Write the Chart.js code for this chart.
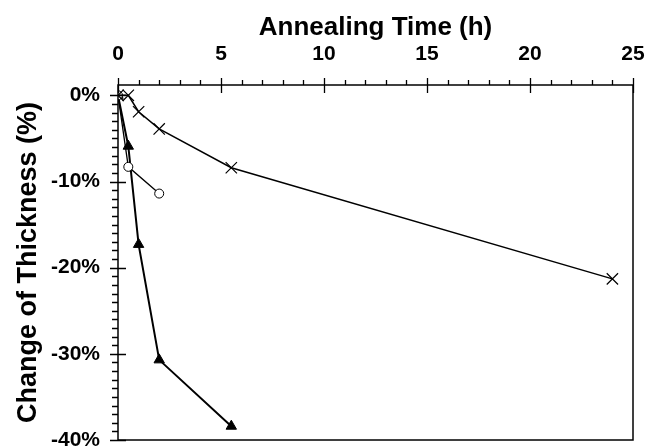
<!DOCTYPE html>
<html>
<head>
<meta charset="utf-8">
<script src="https://cdn.jsdelivr.net/npm/chart.js@4/dist/chart.umd.min.js"></script>
<style>
  html, body { margin: 0; padding: 0; background: #fff; overflow: hidden; }
  canvas { display: block; }
</style>
</head>
<body>
<canvas id="thicknessChart" width="659" height="448"></canvas>
<script>
// annealing time (h) and change of thickness (%) for each sample
const crossTimes = [0, 0.5, 1, 2, 5.5, 24];
const crossValues = [0, 0, -1.9, -3.9, -8.4, -21.3];

const circleTimes = [0, 0.5, 2];
const circleValues = [0, -8.3, -11.4];

const triangleTimes = [0, 0.5, 1, 2, 5.5];
const triangleValues = [0, -5.9, -17.3, -30.7, -38.4];

const xTickValues = [0, 5, 10, 15, 20, 25];
const yTickValues = [-40, -30, -20, -10, 0];

function toPoints(xs, ys) {
    return xs.map((x, i) => ({ x: x, y: ys[i] }));
}

const fontFamily = "'Liberation Sans', Arial, Helvetica, sans-serif";

// drop the automatic label overflow padding so the plot frame sits where it should
function noPad(scale) {
    scale.paddingTop = 0;
    scale.paddingBottom = 0;
    scale.paddingLeft = 0;
    scale.paddingRight = 0;
}

// frame and tick marks (minor every 1 h / 1 %)
const framePlugin = {
    id: 'frame',
    afterDraw(chart) {
        const ctx = chart.ctx;
        const area = chart.chartArea;
        const xs = chart.scales.x;
        const ys = chart.scales.y;
        ctx.save();
        ctx.strokeStyle = '#000';
        ctx.lineWidth = 1.5;
        ctx.strokeRect(area.left, area.top, area.right - area.left, area.bottom - area.top);
        ctx.lineWidth = 1.3;
        ctx.beginPath();
        for (let v = 0; v <= 25; v++) {
            const px = Math.round(xs.getPixelForValue(v)) + 0.5;
            if (v % 5 === 0) {
                ctx.moveTo(px, area.top - 7);
                ctx.lineTo(px, area.top + 8);
            } else {
                ctx.moveTo(px, area.top - 5);
                ctx.lineTo(px, area.top);
            }
        }
        for (let v = -40; v <= 0; v++) {
            const py = Math.round(ys.getPixelForValue(v)) + 0.5;
            if (v % 10 === 0) {
                ctx.moveTo(area.left - 8, py);
                ctx.lineTo(area.left + 8, py);
            } else {
                ctx.moveTo(area.left - 6, py);
                ctx.lineTo(area.left, py);
            }
        }
        ctx.stroke();
        ctx.restore();
    }
};

const config = {
    type: 'scatter',
    data: {
        datasets: [{
            label: 'cross',
            data: toPoints(crossTimes, crossValues),
            showLine: true,
            borderColor: '#000',
            borderWidth: 1.5,
            pointStyle: 'crossRot',
            pointRadius: 8,
            pointBorderWidth: 1.2,
            pointBorderColor: '#000',
            pointBackgroundColor: '#000'
        }, {
            label: 'circle',
            data: toPoints(circleTimes, circleValues),
            showLine: true,
            borderColor: '#000',
            borderWidth: 1.3,
            pointStyle: 'circle',
            pointRadius: 4.5,
            pointBorderWidth: 1,
            pointBorderColor: '#000',
            pointBackgroundColor: '#fff'
        }, {
            label: 'triangle',
            data: toPoints(triangleTimes, triangleValues),
            showLine: true,
            borderColor: '#000',
            borderWidth: 2,
            pointStyle: 'triangle',
            pointRadius: 6,
            pointBorderWidth: 1,
            pointBorderColor: '#000',
            pointBackgroundColor: '#000'
        }]
    },
    options: {
        responsive: false,
        animation: false,
        layout: { autoPadding: false, padding: { top: 0, left: 0, right: 26, bottom: 8 } },
        plugins: {
            legend: { display: false },
            tooltip: { enabled: false }
        },
        scales: {
            x: {
                type: 'linear',
                position: 'top',
                min: 0,
                max: 25,
                grid: { display: false, drawTicks: false },
                border: { display: false },
                afterBuildTicks: (scale) => { scale.ticks = xTickValues.map(v => ({ value: v })); },
                afterFit: (scale) => { scale.height = 85; noPad(scale); },
                ticks: {
                    color: '#000',
                    padding: 18,
                    maxRotation: 0,
                    font: { family: fontFamily, size: 21, weight: 'bold' }
                },
                title: {
                    display: true,
                    text: 'Annealing Time (h)',
                    color: '#000',
                    padding: { top: 12, bottom: 0 },
                    font: { family: fontFamily, size: 26, weight: 'bold' }
                }
            },
            y: {
                type: 'linear',
                min: -40,
                max: 1.2,
                grid: { display: false, drawTicks: false },
                border: { display: false },
                afterBuildTicks: (scale) => { scale.ticks = yTickValues.map(v => ({ value: v })); },
                afterFit: (scale) => { scale.width = 118; noPad(scale); },
                ticks: {
                    color: '#000',
                    padding: 18,
                    font: { family: fontFamily, size: 21, weight: 'bold' },
                    callback: (v) => v + '%'
                },
                title: {
                    display: true,
                    text: 'Change of Thickness (%)',
                    color: '#000',
                    padding: { top: 12, bottom: 0 },
                    font: { family: fontFamily, size: 27, weight: 'bold' }
                }
            }
        }
    },
    plugins: [framePlugin]
};

const thicknessChart = new Chart(document.getElementById('thicknessChart'), config);
</script>
</body>
</html>
